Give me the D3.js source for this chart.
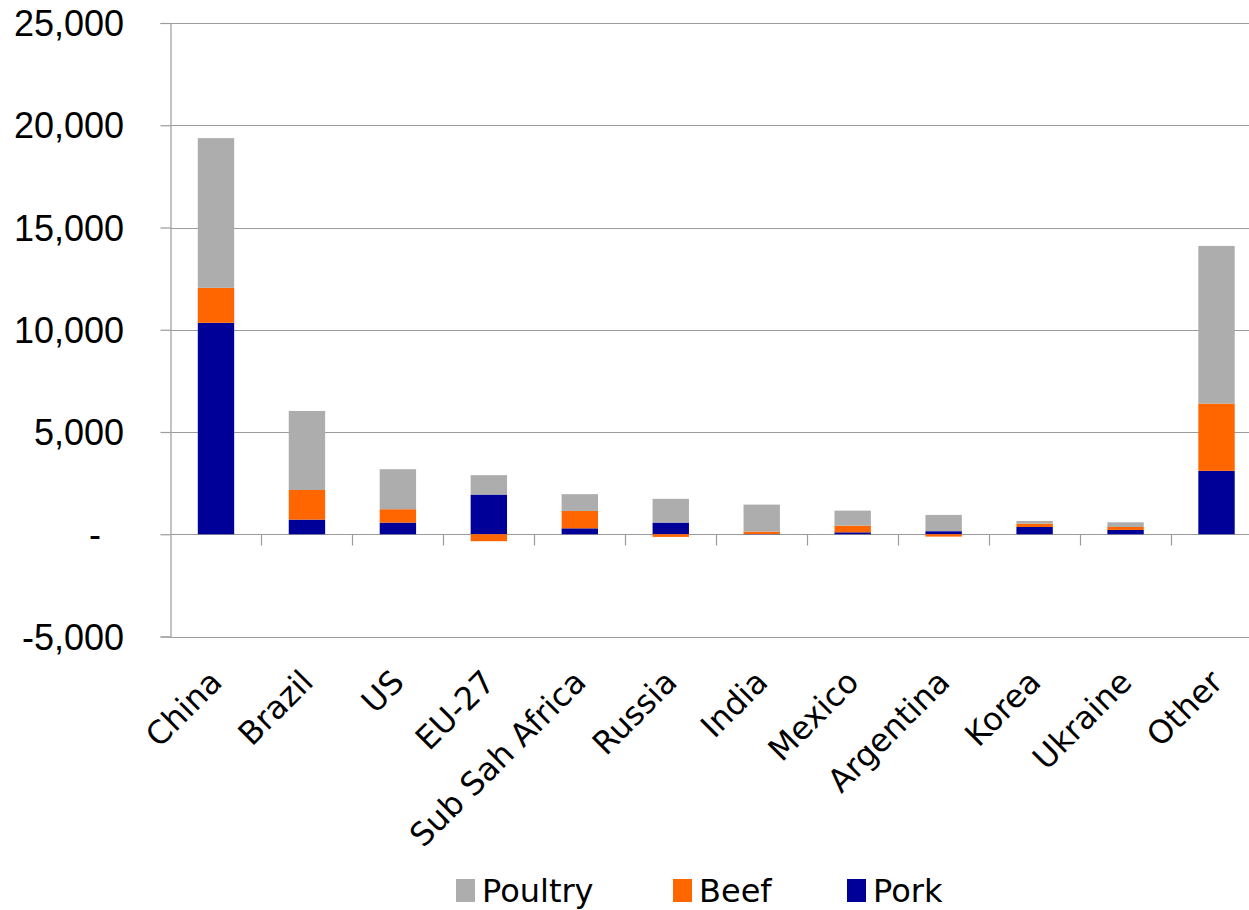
<!DOCTYPE html>
<html>
<head>
<meta charset="utf-8">
<script src="https://cdn.jsdelivr.net/npm/d3@7"></script>
<style>
  html, body { margin: 0; padding: 0; background: #fff; }
  svg { display: block; }
</style>
</head>
<body>
<svg id="chart" width="1249" height="910"></svg>
<script>
// Meat consumption change by region, stacked by meat type
const categories = ["China", "Brazil", "US", "EU-27", "Sub Sah Africa", "Russia",
                    "India", "Mexico", "Argentina", "Korea", "Ukraine", "Other"];
const pork    = [10340, 715, 570, 1940, 290, 570, 10, 95, 150, 355, 210, 3100];
const beef    = [1710, 1450, 655, -340, 850, -130, 120, 325, -115, 165, 145, 3290];
const poultry = [7320, 3865, 1955, 950, 820, 1160, 1320, 735, 795, 130, 230, 7710];
const yTicks  = [-5000, 0, 5000, 10000, 15000, 20000, 25000];

const seriesNames  = ["Pork", "Beef", "Poultry"];
const seriesColors = { Pork: "#000099", Beef: "#ff6600", Poultry: "#adadad" };
const legendOrder  = ["Poultry", "Beef", "Pork"];

const rows = categories.map((c, i) => ({
  category: c, Pork: pork[i], Beef: beef[i], Poultry: poultry[i]
}));

const svg = d3.select("#chart");
const plot = { left: 170.5, right: 1262, top: 23, bottom: 636.5 };

const x = d3.scaleBand()
  .domain(categories)
  .range([plot.left, plot.right])
  .paddingInner(0.6)
  .paddingOuter(0.3);

const y = d3.scaleLinear()
  .domain([-5000, 25000])
  .range([plot.bottom, plot.top]);

// accounting-style labels: zero shown as a dash, plain hyphen for negatives
const fmt = v => v === 0 ? "-" : d3.format(",")(v).replace("\u2212", "-");

// horizontal gridlines
svg.append("g")
  .selectAll("line")
  .data(yTicks)
  .join("line")
  .attr("x1", plot.left)
  .attr("x2", 1249)
  .attr("y1", d => Math.round(y(d)) + 0.5)
  .attr("y2", d => Math.round(y(d)) + 0.5)
  .attr("stroke", "#9c9c9c")
  .attr("stroke-width", 1.2);

// stacked bars (negative values stack below zero)
const stacked = d3.stack()
  .keys(seriesNames)
  .offset(d3.stackOffsetDiverging)(rows);

svg.append("g")
  .selectAll("g")
  .data(stacked)
  .join("g")
  .attr("fill", d => seriesColors[d.key])
  .selectAll("rect")
  .data(d => d)
  .join("rect")
  .attr("x", d => x(d.data.category))
  .attr("width", x.bandwidth())
  .attr("y", d => y(Math.max(d[0], d[1])))
  .attr("height", d => Math.abs(y(d[0]) - y(d[1])));

// y axis
const yAxis = d3.axisLeft(y)
  .tickValues(yTicks)
  .tickSize(10)
  .tickFormat("");
const yG = svg.append("g")
  .attr("transform", `translate(${plot.left},0)`)
  .call(yAxis);
yG.select(".domain").attr("stroke", "#9c9c9c").attr("stroke-width", 1.2);
yG.selectAll(".tick line").attr("stroke", "#9c9c9c").attr("stroke-width", 1.2);

svg.append("g")
  .selectAll("text")
  .data(yTicks)
  .join("text")
  .attr("x", d => d === 0 ? 101 : 124)
  .attr("y", d => y(d) + 13)
  .attr("text-anchor", "end")
  .attr("font-family", "'Liberation Sans', Arial, sans-serif")
  .attr("font-size", 36)
  .attr("fill", "#000")
  .text(fmt);

// category axis along zero
const zeroY = Math.round(y(0)) + 0.5;
const step = x.step();
const gap = step * x.paddingInner();
svg.append("g")
  .selectAll("line")
  .data(categories.slice(1))
  .join("line")
  .attr("x1", d => Math.round(x(d) - gap / 2) + 0.5)
  .attr("x2", d => Math.round(x(d) - gap / 2) + 0.5)
  .attr("y1", zeroY)
  .attr("y2", zeroY + 11)
  .attr("stroke", "#9c9c9c")
  .attr("stroke-width", 1.2);

svg.append("g")
  .selectAll("text")
  .data(categories)
  .join("text")
  .attr("transform", d => `translate(${x(d) + x.bandwidth() / 2 + 8},684) rotate(-45)`)
  .attr("text-anchor", "end")
  .attr("font-family", "'DejaVu Sans', Verdana, sans-serif")
  .attr("font-size", 32)
  .attr("fill", "#000")
  .text(d => d);

// legend
const legendX = { Poultry: 456, Beef: 673, Pork: 847 };
const legend = svg.append("g")
  .selectAll("g")
  .data(legendOrder)
  .join("g")
  .attr("transform", d => `translate(${legendX[d]},879)`);
legend.append("rect")
  .attr("width", 19)
  .attr("height", 23)
  .attr("fill", d => seriesColors[d]);
legend.append("text")
  .attr("x", 26)
  .attr("y", 23)
  .attr("font-family", "'DejaVu Sans', Verdana, sans-serif")
  .attr("font-size", 32)
  .attr("fill", "#000")
  .text(d => d);
</script>
</body>
</html>
